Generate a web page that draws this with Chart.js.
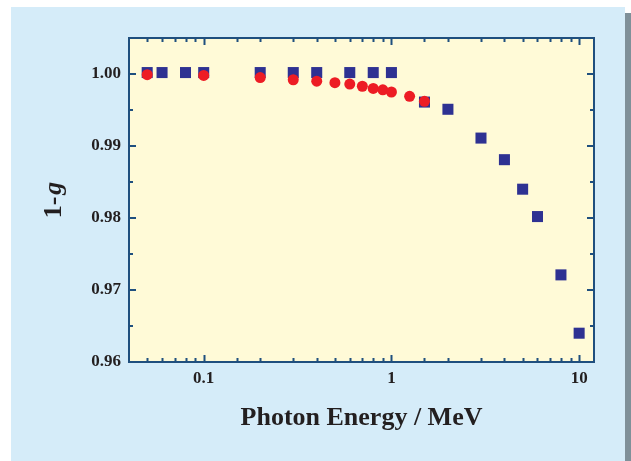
<!DOCTYPE html>
<html>
<head>
<meta charset="utf-8">
<script src="https://cdn.jsdelivr.net/npm/chart.js@4/dist/chart.umd.min.js"></script>
<style>
  html, body { margin: 0; padding: 0; background: #ffffff; }
  #wrap { width: 631px; height: 461px; }
</style>
</head>
<body>
<div id="wrap"><canvas id="chart" width="631" height="461"></canvas></div>
<script>
// blue squares
const energySquares = [0.05, 0.06, 0.08, 0.1, 0.2, 0.3, 0.4, 0.6, 0.8, 1, 1.5, 2, 3, 4, 5, 6, 8, 10];
const valuesSquares = [1.0002, 1.0002, 1.0002, 1.0002, 1.0002, 1.0002, 1.0002, 1.0002, 1.0002, 1.0002,
  0.9961, 0.9951, 0.9911, 0.9881, 0.9840, 0.9802, 0.9721, 0.9640];
// red circles
const energyCircles = [0.05, 0.1, 0.2, 0.3, 0.4, 0.5, 0.6, 0.7, 0.8, 0.9, 1, 1.25, 1.5];
const valuesCircles = [0.9999, 0.9998, 0.9995, 0.9992, 0.9990, 0.9988, 0.9986, 0.9983, 0.9980, 0.9978, 0.9975, 0.9969, 0.9962];

const xLabelTicks = [0.1, 1, 10];
const yLabelTicks = [0.96, 0.97, 0.98, 0.99, 1.00];

const serif = '"Liberation Serif", "Times New Roman", serif';
const axisColor = '#1f4f7e';

function toPoints(xs, ys) {
  return xs.map(function (x, i) {
    return { x: x, y: ys[i] };
  });
}

function isLabelled(list, v) {
  return list.some(function (t) {
    return Math.abs(t - v) < 1e-7;
  });
}

// backgrounds, frame, inward ticks and the y title
const frame = {
  id: 'frame',
  beforeDraw(chart) {
    const ctx = chart.ctx;
    const a = chart.chartArea;
    ctx.save();
    ctx.fillStyle = '#ffffff';
    ctx.fillRect(0, 0, chart.width, chart.height);
    ctx.fillStyle = '#7f9099';
    ctx.fillRect(625, 13, 6, chart.height - 13);
    ctx.fillStyle = '#d5ecf9';
    ctx.fillRect(11, 7, 614, chart.height - 7);
    ctx.fillStyle = '#fffad7';
    ctx.fillRect(a.left, a.top, a.right - a.left, a.bottom - a.top);
    ctx.restore();
  },
  afterDraw(chart) {
    const ctx = chart.ctx;
    const a = chart.chartArea;
    const xs = chart.scales.x;
    const ys = chart.scales.y;
    ctx.save();
    ctx.strokeStyle = axisColor;
    ctx.lineWidth = 2;
    ctx.beginPath();
    xs.ticks.forEach(function (t) {
      if (t.value <= xs.min || t.value >= xs.max) return;
      const px = Math.round(xs.getPixelForValue(t.value)) + 0.5;
      const len = isLabelled(xLabelTicks, t.value) ? 7 : 4;
      ctx.moveTo(px, a.bottom);
      ctx.lineTo(px, a.bottom - len);
      ctx.moveTo(px, a.top);
      ctx.lineTo(px, a.top + len);
    });
    ys.ticks.forEach(function (t) {
      if (t.value <= ys.min + 1e-9 || t.value >= ys.max - 1e-9) return;
      const py = Math.round(ys.getPixelForValue(t.value));
      const len = isLabelled(yLabelTicks, t.value) ? 7 : 4;
      ctx.moveTo(a.left, py);
      ctx.lineTo(a.left + len, py);
      ctx.moveTo(a.right, py);
      ctx.lineTo(a.right - len, py);
    });
    ctx.stroke();
    ctx.strokeRect(a.left, a.top, a.right - a.left, a.bottom - a.top);

    // y title: 1-g with italic g
    ctx.fillStyle = '#231f20';
    ctx.translate(61, (a.top + a.bottom) / 2);
    ctx.rotate(-Math.PI / 2);
    ctx.textBaseline = 'alphabetic';
    ctx.textAlign = 'left';
    const partA = '1-';
    const partB = 'g';
    ctx.font = 'bold 26px ' + serif;
    const wA = ctx.measureText(partA).width + 2;
    ctx.font = 'italic bold 26px ' + serif;
    const wB = ctx.measureText(partB).width;
    const start = -(wA + wB) / 2;
    ctx.font = 'bold 26px ' + serif;
    ctx.fillText(partA, start, 0);
    ctx.font = 'italic bold 26px ' + serif;
    ctx.fillText(partB, start + wA, 0);
    ctx.restore();
  },
};

const config = {
  type: 'scatter',
  data: {
    datasets: [
      {
        label: 'circles',
        data: toPoints(energyCircles, valuesCircles),
        pointStyle: 'circle',
        pointRadius: 5.5,
        pointHoverRadius: 5.5,
        backgroundColor: '#ed1c24',
        borderWidth: 0,
      },
      {
        label: 'squares',
        data: toPoints(energySquares, valuesSquares),
        pointStyle: 'rect',
        pointRadius: 7.8,
        pointHoverRadius: 7.8,
        backgroundColor: '#2e3192',
        borderWidth: 0,
      },
    ],
  },
  options: {
    responsive: false,
    animation: false,
    layout: {
      padding: { left: 11, top: 38, right: 37, bottom: 0 },
    },
    plugins: {
      legend: { display: false },
      tooltip: { enabled: false },
    },
    scales: {
      x: {
        type: 'logarithmic',
        min: 0.04,
        max: 12,
        grid: { display: false, drawTicks: false },
        border: { display: false },
        ticks: {
          autoSkip: false,
          maxRotation: 0,
          padding: 6,
          color: '#231f20',
          font: { family: serif, size: 17, weight: 'bold' },
          callback: function (value) {
            return isLabelled(xLabelTicks, value) ? String(value) : '';
          },
        },
        title: {
          display: true,
          text: 'Photon Energy / MeV',
          color: '#231f20',
          font: { family: serif, size: 26, weight: 'bold' },
          padding: { top: 0, bottom: 27 },
        },
        afterFit: function (scale) {
          scale.height = 99;
        },
      },
      y: {
        min: 0.96,
        max: 1.005,
        grid: { display: false, drawTicks: false },
        border: { display: false },
        ticks: {
          stepSize: 0.005,
          autoSkip: false,
          padding: 8,
          color: '#231f20',
          font: { family: serif, size: 17, weight: 'bold' },
          callback: function (value) {
            return isLabelled(yLabelTicks, value) ? value.toFixed(2) : '';
          },
        },
        afterFit: function (scale) {
          scale.width = 118;
        },
      },
    },
  },
  plugins: [frame],
};

new Chart(document.getElementById('chart'), config);
</script>
</body>
</html>
